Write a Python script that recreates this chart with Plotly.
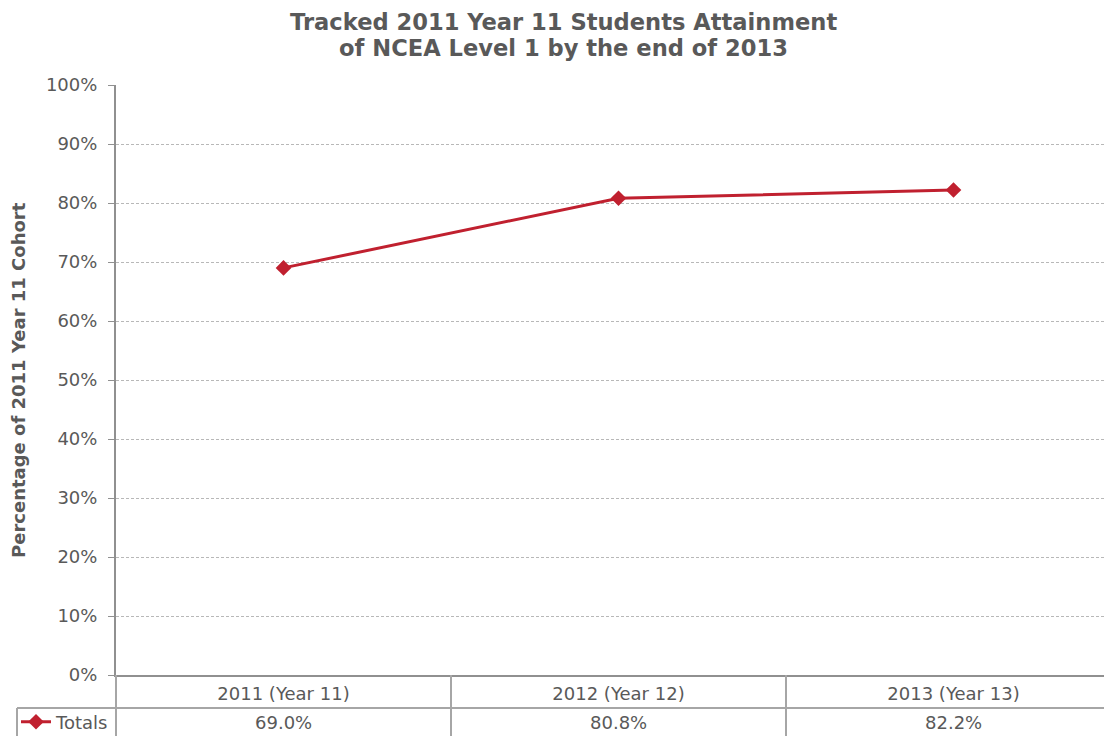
import plotly.graph_objects as go

categories = ["2011 (Year 11)", "2012 (Year 12)", "2013 (Year 13)"]
totals = [0.690, 0.808, 0.822]
series_name = "Totals"
title_lines = ["Tracked 2011 Year 11 Students Attainment", "of NCEA Level 1 by the end of 2013"]
y_title = "Percentage of 2011 Year 11 Cohort"

# The page body has an 8px margin, so figure coords = reference pixel - 8
OFF = 8
W, H = 1112 - OFF, 736 - OFF
L, T = 116 - OFF, 85 - OFF
B = H - (675 - OFF)
R = 0
plot_w = W - L - R
plot_h = H - T - B

def px_x(p):
    return (p - OFF - L) / plot_w

def px_y(p):
    return (H - B - (p - OFF)) / plot_h

RED = "#C0202F"
GRID = "#B8B8B8"
AXIS = "#909090"
TXT = "#595959"
FONT = "DejaVu Sans"

fig = go.Figure()
fig.add_trace(go.Scatter(
    x=categories, y=totals, name=series_name, mode="lines+markers",
    line=dict(color=RED, width=3),
    marker=dict(symbol="diamond", size=12, color=RED),
    showlegend=True,
))

shapes = []
line_style = dict(color="#A6A6A6", width=2)
for xv in [0.5, 1.5]:
    shapes.append(dict(type="line", xref="x", yref="paper", x0=xv, x1=xv,
                       y0=0, y1=px_y(745), line=line_style))
shapes.append(dict(type="line", xref="paper", yref="paper", x0=0, x1=0,
                   y0=0, y1=px_y(745), line=line_style))
shapes.append(dict(type="line", xref="paper", yref="paper", x0=px_x(17), x1=px_x(17),
                   y0=px_y(708), y1=px_y(745), line=line_style))
shapes.append(dict(type="line", xref="paper", yref="paper", x0=px_x(17), x1=1,
                   y0=px_y(708), y1=px_y(708), line=line_style))

annotations = []
for line_txt, yc in zip(title_lines, [22, 48]):
    annotations.append(dict(text=line_txt, xref="paper", yref="paper",
                            x=px_x(563), y=px_y(yc), xanchor="center", yanchor="middle",
                            showarrow=False,
                            font=dict(family=FONT, size=22.6, color=TXT, weight="bold")))
annotations.append(dict(text=y_title, xref="paper", yref="paper", textangle=-90,
                        x=px_x(18), y=px_y(380), xanchor="center", yanchor="middle",
                        showarrow=False,
                        font=dict(family=FONT, size=18, color=TXT, weight="bold")))
for c, v in zip(categories, totals):
    annotations.append(dict(x=c, xref="x", y=px_y(722), yref="paper",
                            yanchor="middle",
                            text=f"{v*100:.1f}%", showarrow=False,
                            font=dict(family=FONT, size=18, color=TXT)))

fig.update_layout(
    template="none",
    width=W, height=H,
    margin=dict(l=L, r=R, t=T, b=B, pad=0, autoexpand=False),
    paper_bgcolor="white", plot_bgcolor="white",
    xaxis=dict(range=[-0.5, -0.5 + plot_w / 335.0], showgrid=False,
               showline=True, linecolor=AXIS, linewidth=2, automargin=False,
               ticks="", tickfont=dict(family=FONT, size=18, color=TXT),
               ticklabelstandoff=1, fixedrange=True),
    yaxis=dict(range=[0, 1], dtick=0.1, tickformat=".0%", automargin=False,
               showgrid=True, gridcolor=GRID, griddash="3px,2px", gridwidth=1,
               showline=True, linecolor=AXIS, linewidth=2,
               ticks="outside", ticklen=6, tickcolor=AXIS, tickwidth=1,
               tickfont=dict(family=FONT, size=18, color=TXT),
               ticklabelstandoff=7, zeroline=False),
    legend=dict(x=px_x(16), y=px_y(722), xanchor="left", yanchor="middle",
                xref="paper", yref="paper", bgcolor="rgba(0,0,0,0)",
                font=dict(family=FONT, size=18, color=TXT),
                itemwidth=30, tracegroupgap=0),
    shapes=shapes, annotations=annotations,
)

fig.write_html("out.html")
